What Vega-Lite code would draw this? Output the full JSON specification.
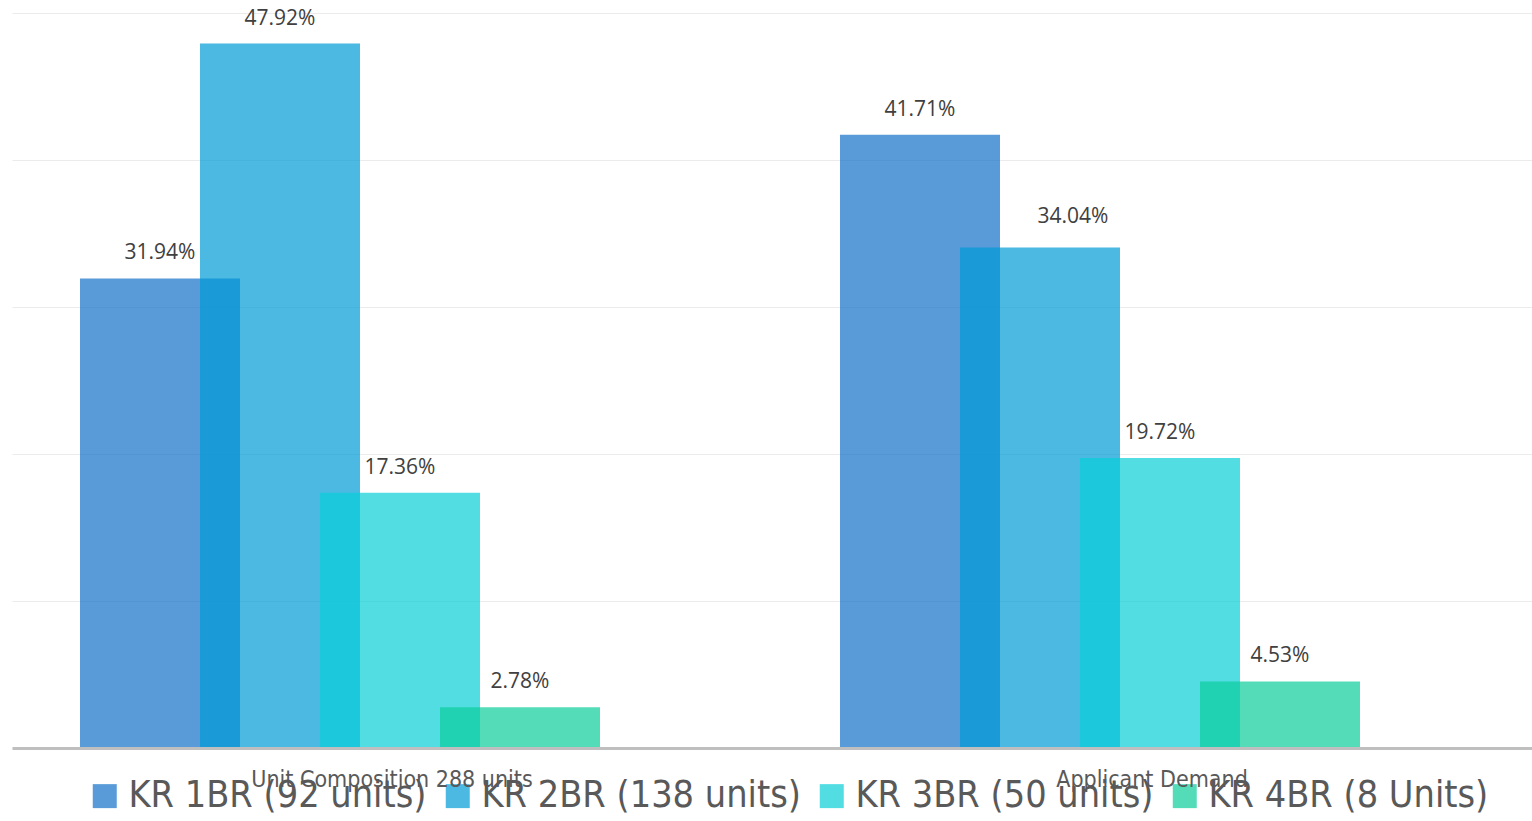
{
  "$schema": "https://vega.github.io/schema/vega-lite/v6.json",
  "width": 1520,
  "height": 735,
  "autosize": {"type": "none"},
  "padding": {"left": 12, "top": 13, "right": 0, "bottom": 73},
  "background": "white",
  "config": {"view": {"stroke": null}},
  "data": {
    "values": [
      {"category": "Unit Composition 288 units", "series": "KR 1BR (92 units)", "value": 31.94, "label": "31.94%"},
      {"category": "Unit Composition 288 units", "series": "KR 2BR (138 units)", "value": 47.92, "label": "47.92%"},
      {"category": "Unit Composition 288 units", "series": "KR 3BR (50 units)", "value": 17.36, "label": "17.36%"},
      {"category": "Unit Composition 288 units", "series": "KR 4BR (8 Units)", "value": 2.78, "label": "2.78%"},
      {"category": "Applicant Demand", "series": "KR 1BR (92 units)", "value": 41.71, "label": "41.71%"},
      {"category": "Applicant Demand", "series": "KR 2BR (138 units)", "value": 34.04, "label": "34.04%"},
      {"category": "Applicant Demand", "series": "KR 3BR (50 units)", "value": 19.72, "label": "19.72%"},
      {"category": "Applicant Demand", "series": "KR 4BR (8 Units)", "value": 4.53, "label": "4.53%"}
    ]
  },
  "encoding": {
    "x": {
      "field": "category", "type": "nominal",
      "sort": ["Unit Composition 288 units", "Applicant Demand"],
      "scale": {"paddingInner": 0, "paddingOuter": 0},
      "axis": {
        "title": null, "labelAngle": 0, "ticks": false, "domain": true,
        "domainColor": "#bfbfbf", "domainWidth": 3, "grid": false,
        "labelFontSize": 23, "labelColor": "#595959", "labelPadding": 20, "labelLimit": 1000,
        "labelFont": "Liberation Sans Narrow, DejaVu Sans Condensed, Lato", "zindex": 1
      }
    },
    "xOffset": {
      "field": "series", "type": "nominal",
      "sort": ["KR 1BR (92 units)", "KR 2BR (138 units)", "KR 3BR (50 units)", "KR 4BR (8 Units)"],
      "scale": {"paddingInner": 0, "paddingOuter": 0, "range": [88, 568]}
    },
    "y": {
      "field": "value", "type": "quantitative",
      "scale": {"domain": [0, 50], "nice": false},
      "axis": {
        "title": null, "labels": false, "ticks": false, "domain": false,
        "values": [0, 10, 20, 30, 40, 50], "gridColor": "#ebebeb", "gridWidth": 1
      }
    }
  },
  "layer": [
    {
      "mark": {"type": "bar", "width": 160, "opacity": 0.7},
      "encoding": {
        "color": {
          "field": "series", "type": "nominal",
          "sort": ["KR 1BR (92 units)", "KR 2BR (138 units)", "KR 3BR (50 units)", "KR 4BR (8 Units)"],
          "scale": {
            "domain": ["KR 1BR (92 units)", "KR 2BR (138 units)", "KR 3BR (50 units)", "KR 4BR (8 Units)"],
            "range": ["#1370C7", "#009BD7", "#09CFD7", "#0CCD9B"]
          },
          "legend": {
            "title": null, "orient": "none", "direction": "horizontal",
            "legendX": 74, "legendY": 764,
            "symbolType": "square", "symbolSize": 576, "symbolStrokeWidth": 0,
            "symbolOpacity": 0.7,
            "labelFontSize": 37.5, "labelColor": "#595959",
            "labelFont": "Liberation Sans Narrow, DejaVu Sans Condensed, Lato",
            "labelOffset": 5, "columnPadding": 12, "padding": 0, "labelLimit": 1000
          }
        }
      }
    },
    {
      "transform": [{"filter": "datum.label != '34.04%'"}],
      "mark": {"type": "text", "baseline": "middle", "dy": -25, "fontSize": 21, "font": "Open Sans", "color": "#404040"},
      "encoding": {"text": {"field": "label"}}
    },
    {
      "transform": [{"filter": "datum.label == '34.04%'"}],
      "mark": {"type": "text", "baseline": "middle", "dy": -31, "dx": 33, "fontSize": 21, "font": "Open Sans", "color": "#404040"},
      "encoding": {"text": {"field": "label"}}
    }
  ]
}
